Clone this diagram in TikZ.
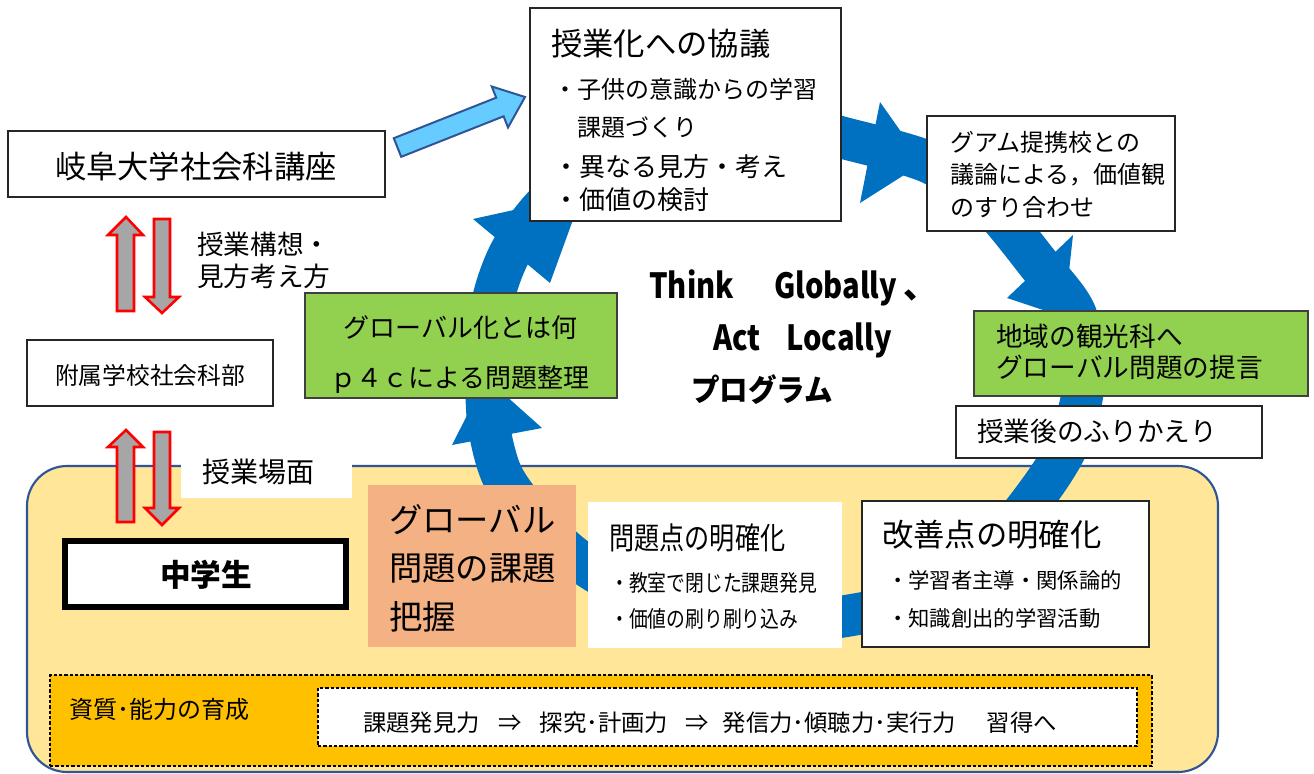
\documentclass[tikz,border=0pt]{standalone}
\usepackage{fontspec}
\usepackage{graphicx}
\setmainfont{Noto Sans CJK JP}
\usetikzlibrary{fit}
\definecolor{ringblue}{HTML}{0070C0}
\definecolor{yellowbg}{HTML}{FFE699}
\definecolor{framebl}{HTML}{2F5597}
\definecolor{greenbx}{HTML}{92D050}
\definecolor{orangebx}{HTML}{F4B183}
\definecolor{goldbx}{HTML}{FFC000}
\definecolor{skyarrow}{HTML}{66CCFF}
\definecolor{grayarr}{HTML}{A6A6A6}
\newcommand\fsz[1]{\fontsize{#1pt}{#1pt}\selectfont}
\begin{document}
\begin{tikzpicture}[x=0.75pt,y=-0.75pt,
  txt/.style={inner sep=0pt, anchor=west, text height=0.86em, text depth=0.14em},
  ctxt/.style={inner sep=0pt, text height=0.86em, text depth=0.14em},
  plainbox/.style={draw=black!85, line width=0.9pt, fill=white, inner sep=0pt},
  gbox/.style={draw=black!75, line width=0.9pt, fill=greenbx, inner sep=0pt},
  redarrow/.style={fill=grayarr, draw=red, line width=1.9pt, line join=miter},
  ringpath/.style={draw=ringblue, line width=31.5pt, line join=round},
  arrhead/.style={fill=ringblue},
  dashbox/.style={inner sep=0pt, draw=black, line width=0.8pt, dash pattern=on 2.5pt off 1.5pt},
  pop/.style={anchor=base west, inner sep=0pt, font=\bfseries\fsz{26}},
]
\fill[white] (0,0) rectangle (1314,774);
\useasboundingbox (0,0) rectangle (1314,774);

% stage area
\node[fit={(27,466) (1218,772)}, inner sep=0pt, draw=framebl, line width=1.6pt, fill=yellowbg, rounded corners=30pt] (stage) {};
\node[fit={(181,455) (352,498)}, inner sep=0pt, fill=white] (scenebg) {};

% cycle ring
\draw[ringpath] plot[smooth cycle] coordinates {
 (700,125) (780,122) (840,137) (928,162) (985,200) (1040,266) (1076,315)
 (1084,380) (1070,440) (1040,490) (990,550) (920,597) (852,615) (760,624)
 (660,605) (582,563) (535,520) (502,475) (488,420) (487,360) (493,300)
 (511,251) (545,205) (600,160)};
\fill[arrhead] (473,219) -- (550,283) -- (582,195) -- cycle;
\fill[arrhead] (452,445) -- (542,428) -- (486,378) -- cycle;
\fill[arrhead] (880,102) -- (860,203) -- (923,163) -- cycle;
\fill[arrhead] (1007,298) -- (1073,235) -- (1064,317) -- cycle;

% red/gray double arrows
\draw[redarrow] (126,217) -- (143,235) -- (134,235) -- (134,311) -- (117,311) -- (117,235) -- (108,235) -- cycle;
\draw[redarrow] (154,219) -- (170,219) -- (170,297) -- (179,297) -- (162,313) -- (145,297) -- (154,297) -- cycle;
\draw[redarrow] (126,430) -- (143,447) -- (134,447) -- (134,522) -- (117,522) -- (117,447) -- (108,447) -- cycle;
\draw[redarrow] (154,432) -- (170,432) -- (170,508) -- (179,508) -- (162,525) -- (145,508) -- (154,508) -- cycle;

% light blue arrow
\draw[fill=skyarrow, draw=framebl, line width=1.5pt, line join=miter]
 (401.2,156.8) -- (503.6,116.3) -- (508.0,127.5) -- (525,97) -- (491.8,86.5) -- (496.2,97.7) -- (393.8,138.2) -- cycle;

% boxes
\node[plainbox, fit={(530,8) (841,221)}] (talk) {};
\node[plainbox, fit={(8,131) (385,197)}] (univ) {};
\node[plainbox, fit={(27,340) (273,406)}] (dept) {};
\node[plainbox, fit={(927,116) (1175,231)}] (guam) {};
\node[gbox, fit={(305,293) (617,398)}] (glob) {};
\node[gbox, fit={(974,311) (1308,396)}] (local) {};
\node[plainbox, fit={(956,406) (1262,458)}] (after) {};
\node[fit={(368,485) (576,647)}, fill=orangebx, inner sep=0pt] (grasp) {};
\node[fit={(588,502) (842,648)}, fill=white, inner sep=0pt] (prob) {};
\node[plainbox, fit={(862,501) (1149,647)}] (impr) {};
\node[fit={(64.75,540.75) (346.25,607.25)}, inner sep=0pt, draw=black, line width=4.2pt, fill=white] (jhs) {};
\node[dashbox, fill=goldbx, fit={(50,675) (1152,766)}] (qual) {};
\node[dashbox, fill=white, fit={(318,688) (1137,746)}] (skills) {};

% texts
\node[ctxt, node font=\fsz{23.5}] (univt) at (196,167) {岐阜大学社会科講座};
\node[txt, node font=\fsz{20}] (plan1) at (197,245) {授業構想・};
\node[txt, node font=\fsz{20}] (plan2) at (197,277) {見方考え方};
\node[ctxt, node font=\fsz{17.8}] (deptt) at (150,376) {附属学校社会科部};
\node[txt, node font=\fsz{21}] (scenet) at (202,472) {授業場面};
\node[ctxt, node font=\bfseries\fsz{23}] (jhst) at (206,575) {中学生};

\node[txt, node font=\fsz{23.5}] (talkt) at (551,44) {授業化への協議};
\node[txt, node font=\fsz{18}] (talk1) at (553,90) {・子供の意識からの学習};
\node[txt, node font=\fsz{18}] (talk2) at (553,128) {　課題づくり};
\node[txt, node font=\fsz{19.5}] (talk3) at (553,167) {・異なる見方・考え};
\node[txt, node font=\fsz{19.5}] (talk4) at (553,200) {・価値の検討};

\node[txt, node font=\fsz{18}] (guam1) at (950,143) {グアム提携校との};
\node[txt, node font=\fsz{18}] (guam2) at (950,175) {議論による，価値観};
\node[txt, node font=\fsz{18}] (guam3) at (950,208) {のすり合わせ};

\node[txt, node font=\fsz{19.5}] (glob1) at (343,328) {グローバル化とは何};
\node[txt, node font=\fsz{19.5}] (glob2) at (330,378) {ｐ４ｃによる問題整理};

\node[txt, node font=\fsz{20}] (local1) at (996,337) {地域の観光科へ};
\node[txt, node font=\fsz{20}] (local2) at (996,368) {グローバル問題の提言};
\node[txt, node font=\fsz{20}] (aftert) at (977,432) {授業後のふりかえり};

\node[txt, node font=\fsz{25}] (grasp1) at (389,520) {グローバル};
\node[txt, node font=\fsz{25}] (grasp2) at (389,568) {問題の課題};
\node[txt, node font=\fsz{25}] (grasp3) at (389,617) {把握};

\node[txt, node font=\fsz{23}] (probt) at (609,538) {\scalebox{0.82}[1]{問題点の明確化}};
\node[txt, node font=\fsz{17}] (prob1) at (610,583) {\scalebox{0.83}[1]{・教室で閉じた課題発見}};
\node[txt, node font=\fsz{17}] (prob2) at (610,619) {\scalebox{0.83}[1]{・価値の刷り刷り込み}};

\node[txt, node font=\fsz{23.5}] (imprt) at (882,535) {改善点の明確化};
\node[txt, node font=\fsz{16}] (impr1) at (887,581) {・学習者主導・関係論的};
\node[txt, node font=\fsz{16}] (impr2) at (887,619) {・知識創出的学習活動};

\node[txt, node font=\fsz{18}] (qualt) at (69,710) {資質･能力の育成};
\node[txt, node font=\fsz{17.5}] (skillt) at (363,723) {課題発見力\hspace{14pt}⇒\hspace{13.5pt}探究･計画力\hspace{13pt}⇒\hspace{10.5pt}発信力･傾聴力･実行力\hspace{23pt}習得へ};

% motto
\node[pop] (think) at (649,298) {\scalebox{0.84}[1]{Think}};
\node[pop] (globally) at (774,298) {\scalebox{0.84}[1]{Globally}};
\node[pop] (comma) at (903,298) {、};
\node[pop] (act) at (713,350) {\scalebox{0.84}[1]{Act}};
\node[pop] (locally) at (786,350) {\scalebox{0.84}[1]{Locally}};
\node[pop, font=\bfseries\fsz{23}] (prog) at (691,401) {\scalebox{0.93}[1]{プログラム}};
\end{tikzpicture}
\end{document}
